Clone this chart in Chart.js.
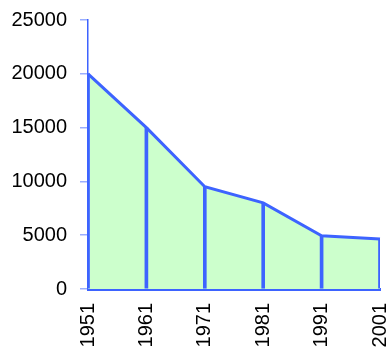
<!DOCTYPE html>
<html>
<head>
<meta charset="utf-8">
<script src="https://cdn.jsdelivr.net/npm/chart.js@4"></script>
<style>
  html, body { margin: 0; padding: 0; background: #fff; }
  #wrap { width: 389px; height: 347px; }
</style>
</head>
<body>
<div id="wrap"><canvas id="chart" width="389" height="347"></canvas></div>
<script>
const years = ['1951', '1961', '1971', '1981', '1991', '2001'];
const values = [20000, 15000, 9500, 8000, 4950, 4650];
const yTicks = [0, 5000, 10000, 15000, 20000, 25000];

const lineBlue = '#3d63ff';
const fillGreen = '#ccffcc';

const ctx = document.getElementById('chart').getContext('2d');
new Chart(ctx, {
    data: {
        labels: years,
        datasets: [{
            type: 'line',
            data: values,
            borderColor: lineBlue,
            borderWidth: 3,
            backgroundColor: fillGreen,
            fill: 'origin',
            tension: 0,
            pointRadius: 0,
            order: 2
        }, {
            // vertical drop lines from each point to zero
            type: 'bar',
            data: values,
            backgroundColor: lineBlue,
            barThickness: 3,
            order: 1
        }]
    },
    options: {
        responsive: false,
        animation: false,
        layout: { padding: { top: 20, right: 9, left: 0, bottom: 0 } },
        plugins: { legend: { display: false }, tooltip: { enabled: false } },
        scales: {
            x: {
                offset: false,
                grid: { display: false, drawTicks: false },
                border: { color: lineBlue, width: 3 },
                ticks: {
                    color: '#000',
                    font: { family: 'Liberation Sans, Arial', size: 20 },
                    minRotation: 90,
                    maxRotation: 90,
                    padding: 14
                },
                afterFit(scale) { scale.paddingLeft = 0; scale.paddingRight = 0; scale.height = 58; }
            },
            y: {
                min: 0,
                max: 25000,
                afterBuildTicks(scale) { scale.ticks = yTicks.map(v => ({ value: v })); },
                grid: { drawOnChartArea: false, color: '#9aaeff', tickLength: 8, lineWidth: 1.5 },
                border: { color: lineBlue, width: 1.5 },
                ticks: {
                    color: '#000',
                    font: { family: 'Liberation Sans, Arial', size: 20 },
                    padding: 13,
                    callback: v => String(v)
                },
                afterFit(scale) { scale.width = 88; scale.paddingTop = 0; scale.paddingBottom = 0; }
            }
        }
    }
});
</script>
</body>
</html>
